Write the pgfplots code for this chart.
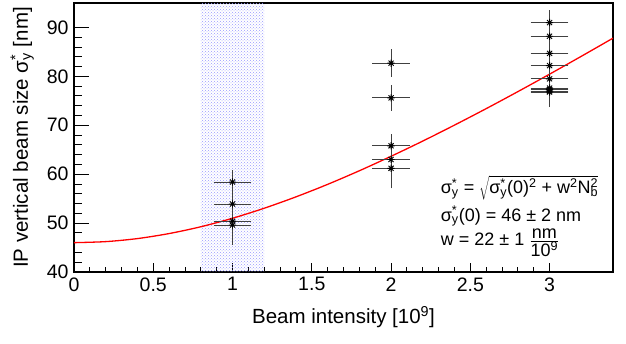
\documentclass[border=0pt]{standalone}
\usepackage{fontspec}
\setmainfont{Liberation Sans}
\usepackage{pgfplots}
\pgfplotsset{compat=1.18}
\usetikzlibrary{patterns}
\pgfdeclareplotmark{rootstar}{%
 \pgfpathmoveto{\pgfqpoint{-\pgfplotmarksize}{0pt}}\pgfpathlineto{\pgfqpoint{\pgfplotmarksize}{0pt}}%
 \pgfpathmoveto{\pgfqpoint{0pt}{-\pgfplotmarksize}}\pgfpathlineto{\pgfqpoint{0pt}{\pgfplotmarksize}}%
 \pgfpathmoveto{\pgfqpoint{-0.707\pgfplotmarksize}{-0.707\pgfplotmarksize}}\pgfpathlineto{\pgfqpoint{0.707\pgfplotmarksize}{0.707\pgfplotmarksize}}%
 \pgfpathmoveto{\pgfqpoint{-0.707\pgfplotmarksize}{0.707\pgfplotmarksize}}\pgfpathlineto{\pgfqpoint{0.707\pgfplotmarksize}{-0.707\pgfplotmarksize}}%
 \pgfusepathqstroke}
\newcommand{\sy}{σ\rlap{\textsuperscript{*}}\textsubscript{y}}
\pgfplotstableread{
x y ex ey
1 58.4 0.1 1.8
1 53.9 0.1 2.0
1 50.4 0.1 2.2
1 49.6 0.1 3.5
2 82.7 0.1 2.2
2 75.6 0.1 2.0
2 65.8 0.1 1.8
2 63.0 0.1 2.0
2 61.2 0.1 3.5
3 91.0 0.1 1.9
3 88.2 0.1 1.9
3 84.7 0.1 1.9
3 82.2 0.1 1.9
3 79.5 0.1 2.0
3 77.6 0.1 2.0
3 77.3 0.1 2.0
3 77.0 0.1 2.0
3 76.8 0.1 2.5
}\meas
\begin{document}
\begin{tikzpicture}
\begin{axis}[
  scale only axis, width=539pt, height=269pt,
  xmin=0, xmax=3.4, ymin=40, ymax=95,
  xtick={0,0.5,1,1.5,2,2.5,3}, ytick={40,50,60,70,80,90},
  xticklabels={0,0.5,1,1.5,2,2.5,3},
  minor x tick num=4, minor y tick num=4,
  tick align=inside, xtick pos=bottom, ytick pos=left,
  /pgf/number format/assume math mode=true,
  ticklabel style={font=\fontsize{19.5}{23}\selectfont},
  label style={font=\fontsize{20.5}{24}\selectfont},
  axis line style={line width=1.3pt},
  tick style={black, line width=0.9pt},
  major x tick style={/pgfplots/major tick length=9pt},
  minor x tick style={/pgfplots/minor tick length=4.5pt},
  major y tick style={/pgfplots/major tick length=15pt},
  minor y tick style={/pgfplots/minor tick length=7.5pt},
  xticklabel shift=2pt, yticklabel shift=2pt,
  xlabel={Beam intensity [10\textsuperscript{9}]},
  ylabel={IP vertical beam size \sy{} [nm]},
  xlabel style={yshift=-8pt},
  ylabel style={yshift=6pt},
  clip mode=individual,
]
\coordinate (ll) at (rel axis cs:0,0);
\coordinate (ur) at (rel axis cs:1,1);
\addplot[draw=none, pattern=crosshatch dots, pattern color=blue!40] coordinates {(0.8,40) (1.2,40) (1.2,95) (0.8,95)} -- cycle;
\addplot[red, line width=1.3pt, smooth] coordinates {
(0,46.00) (0.2,46.21) (0.4,46.83) (0.6,47.86) (0.8,49.25) (1.0,50.99)
(1.2,53.04) (1.4,55.36) (1.6,57.92) (1.8,60.70) (2.0,63.66) (2.2,66.77)
(2.4,70.03) (2.6,73.40) (2.8,76.88) (3.0,80.45) (3.2,84.10) (3.4,87.81)};
\addplot[only marks, mark=rootstar, mark size=3.6pt, black, mark options={line width=0.9pt},
  error bars/.cd, x dir=both, x explicit, y dir=both, y explicit,
  error bar style={line width=0.8pt, black!75},
  error mark options={mark size=3pt, line width=0.8pt, black!75}]
  table[x=x, y=y, x error=ex, y error=ey]{\meas};
\node[anchor=base west, font=\fontsize{18}{21}\selectfont, inner sep=0pt] at (axis cs:2.313,56.0)
  {\sy{} = $\sqrt{\mbox{\sy(0)\textsuperscript{2} + w\textsuperscript{2}N\rlap{\textsuperscript{2}}\textsubscript{b}}}$};
\node[anchor=base west, font=\fontsize{18}{21}\selectfont, inner sep=0pt] at (axis cs:2.313,50.4)
  {\sy(0) = 46 ± 2 nm};
\node[anchor=base west, font=\fontsize{18}{21}\selectfont, inner sep=0pt] at (axis cs:2.313,45.5)
  {w = 22 ± 1 $\frac{\mbox{nm}}{\mbox{10\textsuperscript{9}}}$};
\end{axis}
\pgfresetboundingbox
\path[use as bounding box] ([xshift=-74pt,yshift=-72pt]ll) rectangle ([xshift=13pt,yshift=3pt]ur);
\end{tikzpicture}
\end{document}
